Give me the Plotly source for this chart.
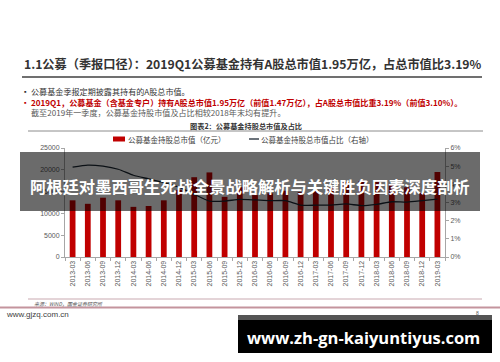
import plotly.graph_objects as go

categories = ["2013-03", "2013-06", "2013-09", "2013-12", "2014-03", "2014-06", "2014-09", "2014-12",
              "2015-03", "2015-06", "2015-09", "2015-12", "2016-03", "2016-06", "2016-09", "2016-12",
              "2017-03", "2017-06", "2017-09", "2017-12", "2018-03", "2018-06", "2018-09", "2018-12",
              "2019-03"]
market_value = [13000, 12200, 13600, 13000, 11500, 11700, 13000, 15400,
                18300, 19400, 13800, 16000, 14200, 14600, 15200, 14900,
                15300, 15900, 17200, 17400, 17300, 16600, 16000, 14700,
                19500]
ratio = [0.0495, 0.0506, 0.0500, 0.0483, 0.0450, 0.0430, 0.0410, 0.0385,
         0.0345, 0.0308, 0.0308, 0.0317, 0.0314, 0.0310, 0.0310, 0.0286,
         0.0285, 0.0286, 0.0292, 0.0283, 0.0290, 0.0304, 0.0302, 0.0310,
         0.0319]
left_ticks = [0, 5000, 10000, 15000, 20000, 25000]
right_ticks = [0, 0.01, 0.02, 0.03, 0.04, 0.05, 0.06]
series_names = ["公募基金持股总市值（亿元）", "公募基金持股总市值占比（右轴）"]

W, H = 500, 362
L, R, T, B = 65, 445, 148, 257


def X(px):
    return (px - L) / (R - L)


def Y(py):
    return (B - py) / (B - T)


CJK = "Noto Sans CJK SC"
BAR_COLOR = "#c00000"
LINE_COLOR = "#1c2833"

fig = go.Figure()
fig.add_trace(go.Bar(x=categories, y=market_value, name=series_names[0],
                     marker=dict(color=BAR_COLOR, line=dict(width=0)), yaxis="y"))
fig.add_trace(go.Scatter(x=categories, y=ratio, name=series_names[1],
                         mode="lines", line=dict(color=LINE_COLOR, width=1.3, shape="spline", smoothing=0.6),
                         yaxis="y2"))

axfont = dict(family="Liberation Sans, Arial", size=7, color="#595959")
fig.update_layout(
    width=W, height=H,
    margin=dict(l=L, r=W - R, t=T, b=H - B, pad=0, autoexpand=False),
    paper_bgcolor="white", plot_bgcolor="white",
    bargap=0.62,
    showlegend=False,
    xaxis=dict(type="category", tickangle=-90, tickfont=axfont, showline=True, linecolor="#a6a6a6",
               linewidth=1, ticks="outside", tickson="boundaries", ticklen=3, tickcolor="#a6a6a6",
               showgrid=False, zeroline=False, automargin=False),
    yaxis=dict(range=[0, 25000], tickvals=left_ticks, tickformat="d", tickfont=axfont, showline=True,
               linecolor="#a6a6a6", ticks="outside", ticklen=3, tickcolor="#a6a6a6",
               showgrid=False, zeroline=False, automargin=False),
    yaxis2=dict(range=[0, 0.06], tickvals=right_ticks, tickformat=".0%", tickfont=axfont,
                overlaying="y", side="right", showline=True, linecolor="#a6a6a6", ticks="outside",
                ticklen=3, tickcolor="#a6a6a6", showgrid=False, zeroline=False, automargin=False),
)

shapes = []
ann = []

# title and rule
ann.append(dict(text="<b>1.1公募（季报口径）：2019Q1公募基金持有A股总市值1.95万亿，占总市值比3.19%</b>",
                x=X(22), y=Y(64), xanchor="left", yanchor="middle",
                font=dict(family=CJK, size=12.2, color="#333333")))
shapes.append(dict(type="line", xref="paper", yref="paper", x0=X(22), x1=X(482), y0=Y(77), y1=Y(77),
                   line=dict(color="#404040", width=1.5)))

# bullets (one text block, three lines)
ann.append(dict(text="▪", x=X(20), y=Y(91.1), xanchor="left", yanchor="middle",
                font=dict(family=CJK, size=6.5, color="#333333")))
ann.append(dict(text="▪", x=X(20), y=Y(101.5), xanchor="left", yanchor="middle",
                font=dict(family=CJK, size=6.5, color="#c00000")))
bullet_text = ("<span style='color:#333333'>公募基金季报定期披露其持有的A股总市值。</span><br>"
               "<span style='color:#c00000'><b>2019Q1，公募基金（含基金专户）持有A股总市值1.95万亿（前值1.47万亿），"
               "占A股总市值比重3.19%（前值3.10%）。</b></span><br>"
               "<span style='color:#595959'>截至2019年一季度，公募基金持股市值及占比相较2018年末均有提升。</span>")
ann.append(dict(text=bullet_text, x=X(28.5), y=Y(101.5), xanchor="left", yanchor="middle", align="left",
                font=dict(family=CJK, size=8.1, color="#333333")))

# chart caption
ann.append(dict(text="<b>图表2：公募基金持股总市值及占比</b>", x=X(246), y=Y(126), xanchor="center",
                yanchor="middle", font=dict(family=CJK, size=7.2, color="#333333")))
shapes.append(dict(type="line", xref="paper", yref="paper", x0=X(28), x1=X(483), y0=Y(131), y1=Y(131),
                   line=dict(color="#8c8c8c", width=1)))

# legend (drawn manually to sit exactly where the reference has it)
shapes.append(dict(type="rect", xref="paper", yref="paper", x0=X(113), x1=X(125), y0=Y(141.5), y1=Y(136.5),
                   fillcolor=BAR_COLOR, line=dict(width=0)))
ann.append(dict(text=series_names[0], x=X(126), y=Y(139), xanchor="left", yanchor="middle",
                font=dict(family=CJK, size=7.5, color="#404040")))
shapes.append(dict(type="line", xref="paper", yref="paper", x0=X(249), x1=X(259), y0=Y(139), y1=Y(139),
                   line=dict(color=LINE_COLOR, width=1.3)))
ann.append(dict(text=series_names[1], x=X(259), y=Y(139), xanchor="left", yanchor="middle",
                font=dict(family=CJK, size=7.5, color="#404040")))

# bottom lines and source
shapes.append(dict(type="line", xref="paper", yref="paper", x0=X(28), x1=X(482), y0=Y(299), y1=Y(299),
                   line=dict(color="#c9a9b0", width=1)))
ann.append(dict(text="<i>来源：WIND，国金证券研究所</i>", x=X(32), y=Y(303.5), xanchor="left", yanchor="middle",
                font=dict(family=CJK, size=5, color="#595959")))
shapes.append(dict(type="line", xref="paper", yref="paper", x0=X(0), x1=X(500), y0=Y(307.5), y1=Y(307.5),
                   line=dict(color="#c4949d", width=2)))
ann.append(dict(text="www.gjzq.com.cn", x=X(4), y=Y(314), xanchor="left", yanchor="middle",
                font=dict(family="Liberation Sans, Arial", size=8, color="#404040")))
ann.append(dict(text="8", x=X(477), y=Y(313), xanchor="center", yanchor="middle",
                font=dict(family="Liberation Sans, Arial", size=5, color="#595959")))

# overlay band
shapes.append(dict(type="rect", xref="paper", yref="paper", x0=X(20), x1=X(480), y0=Y(211), y1=Y(152),
                   fillcolor="rgba(0,0,0,0.58)", line=dict(width=0), layer="above"))
ann.append(dict(text="<b>阿根廷对墨西哥生死战全景战略解析与关键胜负因素深度剖析</b>", x=X(250), y=Y(185.5),
                xanchor="center", yanchor="middle", font=dict(family=CJK, size=16.3, color="white")))

# bottom black box
shapes.append(dict(type="rect", xref="paper", yref="paper", x0=X(238), x1=X(492), y0=Y(353), y1=Y(315),
                   fillcolor="#555555", line=dict(width=0), layer="above"))
shapes.append(dict(type="rect", xref="paper", yref="paper", x0=X(238), x1=X(492), y0=Y(353), y1=Y(320),
                   fillcolor="#000000", line=dict(width=0), layer="above"))
ann.append(dict(text="<b>www.zh-gn-kaiyuntiyus.com</b>", x=X(363), y=Y(337), xanchor="center",
                yanchor="middle", font=dict(family="Open Sans, DejaVu Sans", size=16.5, color="white")))

for a in ann:
    a.update(xref="paper", yref="paper", showarrow=False)
fig.update_layout(shapes=shapes, annotations=ann)

fig.write_html("out.html", config={"displayModeBar": False},
               post_script="document.body.style.margin='0';document.body.style.padding='0';"
                           "document.body.style.overflow='hidden';")
